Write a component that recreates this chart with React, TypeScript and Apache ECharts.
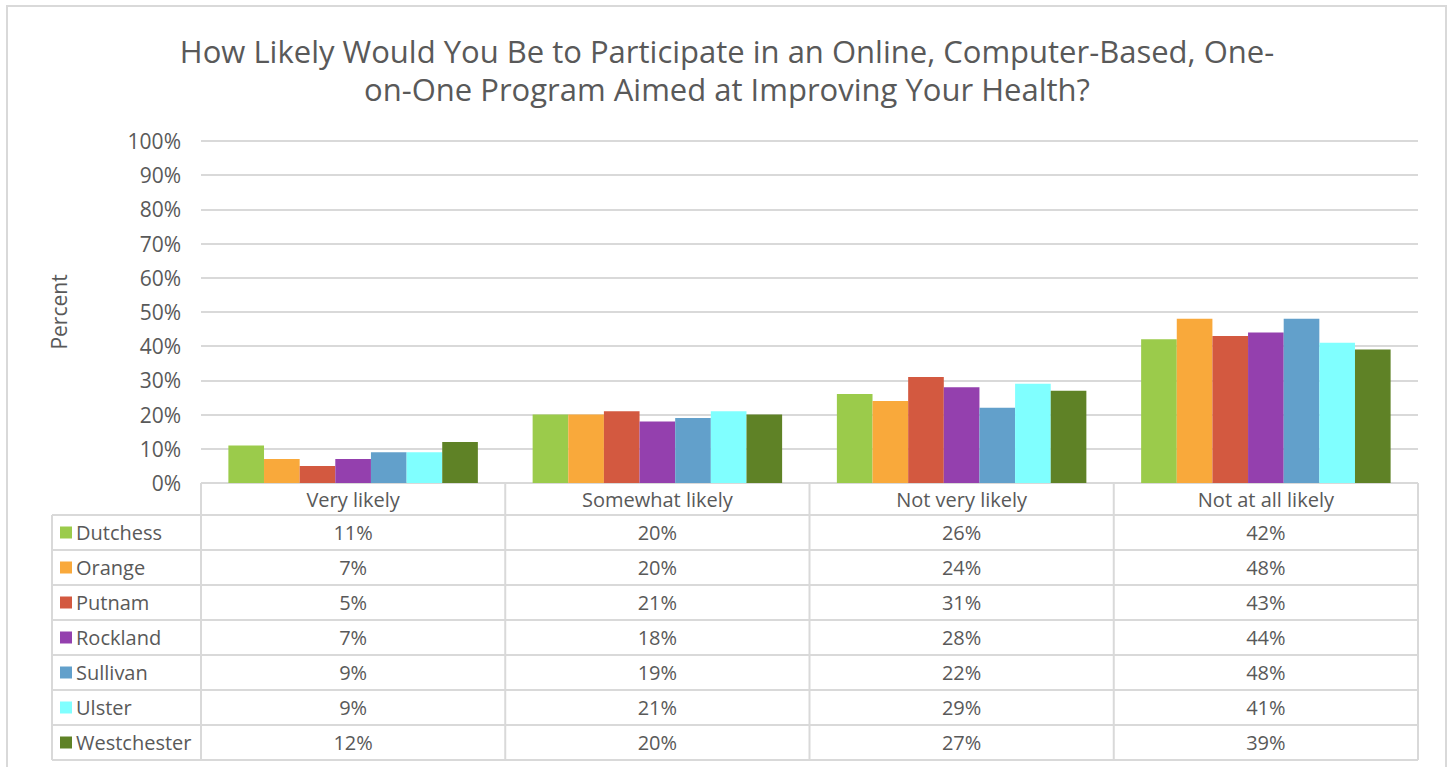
import React, { useEffect, useRef } from "react";
import * as echarts from "echarts";

const TITLE_LINES = [
  "How Likely Would You Be to Participate in an Online, Computer-Based, One-",
  "on-One Program Aimed at Improving Your Health?",
];
const CATEGORIES = ["Very likely", "Somewhat likely", "Not very likely", "Not at all likely"];
const SERIES_NAMES = ["Dutchess", "Orange", "Putnam", "Rockland", "Sullivan", "Ulster", "Westchester"];
const DUTCHESS = [11, 20, 26, 42];
const ORANGE = [7, 20, 24, 48];
const PUTNAM = [5, 21, 31, 43];
const ROCKLAND = [7, 18, 28, 44];
const SULLIVAN = [9, 19, 22, 48];
const ULSTER = [9, 21, 29, 41];
const WESTCHESTER = [12, 20, 27, 39];
const SERIES_VALUES = [DUTCHESS, ORANGE, PUTNAM, ROCKLAND, SULLIVAN, ULSTER, WESTCHESTER];
const COLORS = ["#9BCB4B", "#F9A93B", "#D35940", "#9440AE", "#62A0CB", "#80FFFF", "#5F8226"];
const Y_TICKS = [0, 10, 20, 30, 40, 50, 60, 70, 80, 90, 100];

const W = 1450;
const H = 767;
const GL = 201;
const GR = 1418;
const GT = 141;
const GB = 483;
const HEADER_H = 32;
const ROW_H = 35;
const TABLE_LEFT = 52;
const TEXT = "#595959";
const LINE = "#d9d9d9";
const FONT = "'Open Sans', 'DejaVu Sans', sans-serif";

export default function App() {
  const ref = useRef<HTMLDivElement>(null);
  useEffect(() => {
    document.body.style.margin = "0";
    const chart = echarts.init(ref.current!, null, { renderer: "svg" });
    const n = CATEGORIES.length;
    const colW = (GR - GL) / n;
    const graphics: any[] = [];
    graphics.push({
      type: "rect",
      shape: { x: 7, y: 6, width: 1439, height: 800 },
      style: { fill: "none", stroke: LINE, lineWidth: 2 },
      silent: true,
    });
    TITLE_LINES.forEach((t, i) => {
      graphics.push({
        type: "text",
        x: 727,
        y: 51 + i * 38,
        style: {
          text: t,
          fill: TEXT,
          font: `31px ${FONT}`,
          textAlign: "center",
          textVerticalAlign: "middle",
        },
      });
    });
    const tableBottom = GB + HEADER_H + ROW_H * SERIES_NAMES.length;
    graphics.push({
      type: "line",
      shape: { x1: GL, y1: GB, x2: GR, y2: GB },
      style: { stroke: LINE, lineWidth: 2 },
    });
    for (let r = 0; r <= SERIES_NAMES.length; r++) {
      const y = GB + HEADER_H + r * ROW_H;
      graphics.push({
        type: "line",
        shape: { x1: TABLE_LEFT, y1: y, x2: GR, y2: y },
        style: { stroke: LINE, lineWidth: 2 },
      });
    }
    for (let c = 0; c <= n; c++) {
      const x = GL + c * colW;
      graphics.push({
        type: "line",
        shape: { x1: x, y1: GB, x2: x, y2: tableBottom },
        style: { stroke: LINE, lineWidth: 2 },
      });
    }
    graphics.push({
      type: "line",
      shape: { x1: TABLE_LEFT, y1: GB + HEADER_H, x2: TABLE_LEFT, y2: tableBottom },
      style: { stroke: LINE, lineWidth: 2 },
    });
    CATEGORIES.forEach((cat, c) => {
      graphics.push({
        type: "text",
        x: GL + (c + 0.5) * colW,
        y: GB + HEADER_H / 2,
        style: { text: cat, fill: TEXT, font: `20px ${FONT}`, textAlign: "center", textVerticalAlign: "middle" },
      });
    });
    SERIES_NAMES.forEach((name, r) => {
      const cy = GB + HEADER_H + (r + 0.5) * ROW_H;
      graphics.push({
        type: "rect",
        shape: { x: 60, y: cy - 6, width: 12, height: 12 },
        style: { fill: COLORS[r] },
      });
      graphics.push({
        type: "text",
        x: 76,
        y: cy,
        style: { text: name, fill: TEXT, font: `20px ${FONT}`, textAlign: "left", textVerticalAlign: "middle" },
      });
      SERIES_VALUES[r].forEach((v, c) => {
        graphics.push({
          type: "text",
          x: GL + (c + 0.5) * colW,
          y: cy,
          style: { text: `${v}%`, fill: TEXT, font: `20px ${FONT}`, textAlign: "center", textVerticalAlign: "middle" },
        });
      });
    });

    chart.setOption({
      animation: false,
      backgroundColor: "#ffffff",
      grid: { left: GL, top: GT, width: GR - GL, height: GB - GT, containLabel: false },
      xAxis: {
        type: "category",
        data: CATEGORIES,
        axisLine: { show: false },
        axisTick: { show: false },
        axisLabel: { show: false },
      },
      yAxis: {
        type: "value",
        min: 0,
        max: 100,
        interval: 10,
        name: "Percent",
        nameLocation: "middle",
        nameRotate: 90,
        nameGap: 132,
        nameTextStyle: { color: TEXT, fontSize: 21, fontFamily: FONT },
        axisLine: { show: false },
        axisTick: { show: false },
        axisLabel: {
          color: TEXT,
          fontSize: 21,
          fontFamily: FONT,
          margin: 20,
          formatter: (v: number) => (Y_TICKS.includes(v) ? `${v}%` : ""),
        },
        splitLine: { lineStyle: { color: LINE, width: 2 } },
      },
      series: SERIES_NAMES.map((name, i) => ({
        name,
        type: "bar",
        data: SERIES_VALUES[i],
        barGap: "0%",
        barCategoryGap: "18%",
        itemStyle: { color: COLORS[i] },
      })),
      graphic: graphics,
    });
    return () => chart.dispose();
  }, []);
  return <div ref={ref} style={{ width: W, height: H }} />;
}
